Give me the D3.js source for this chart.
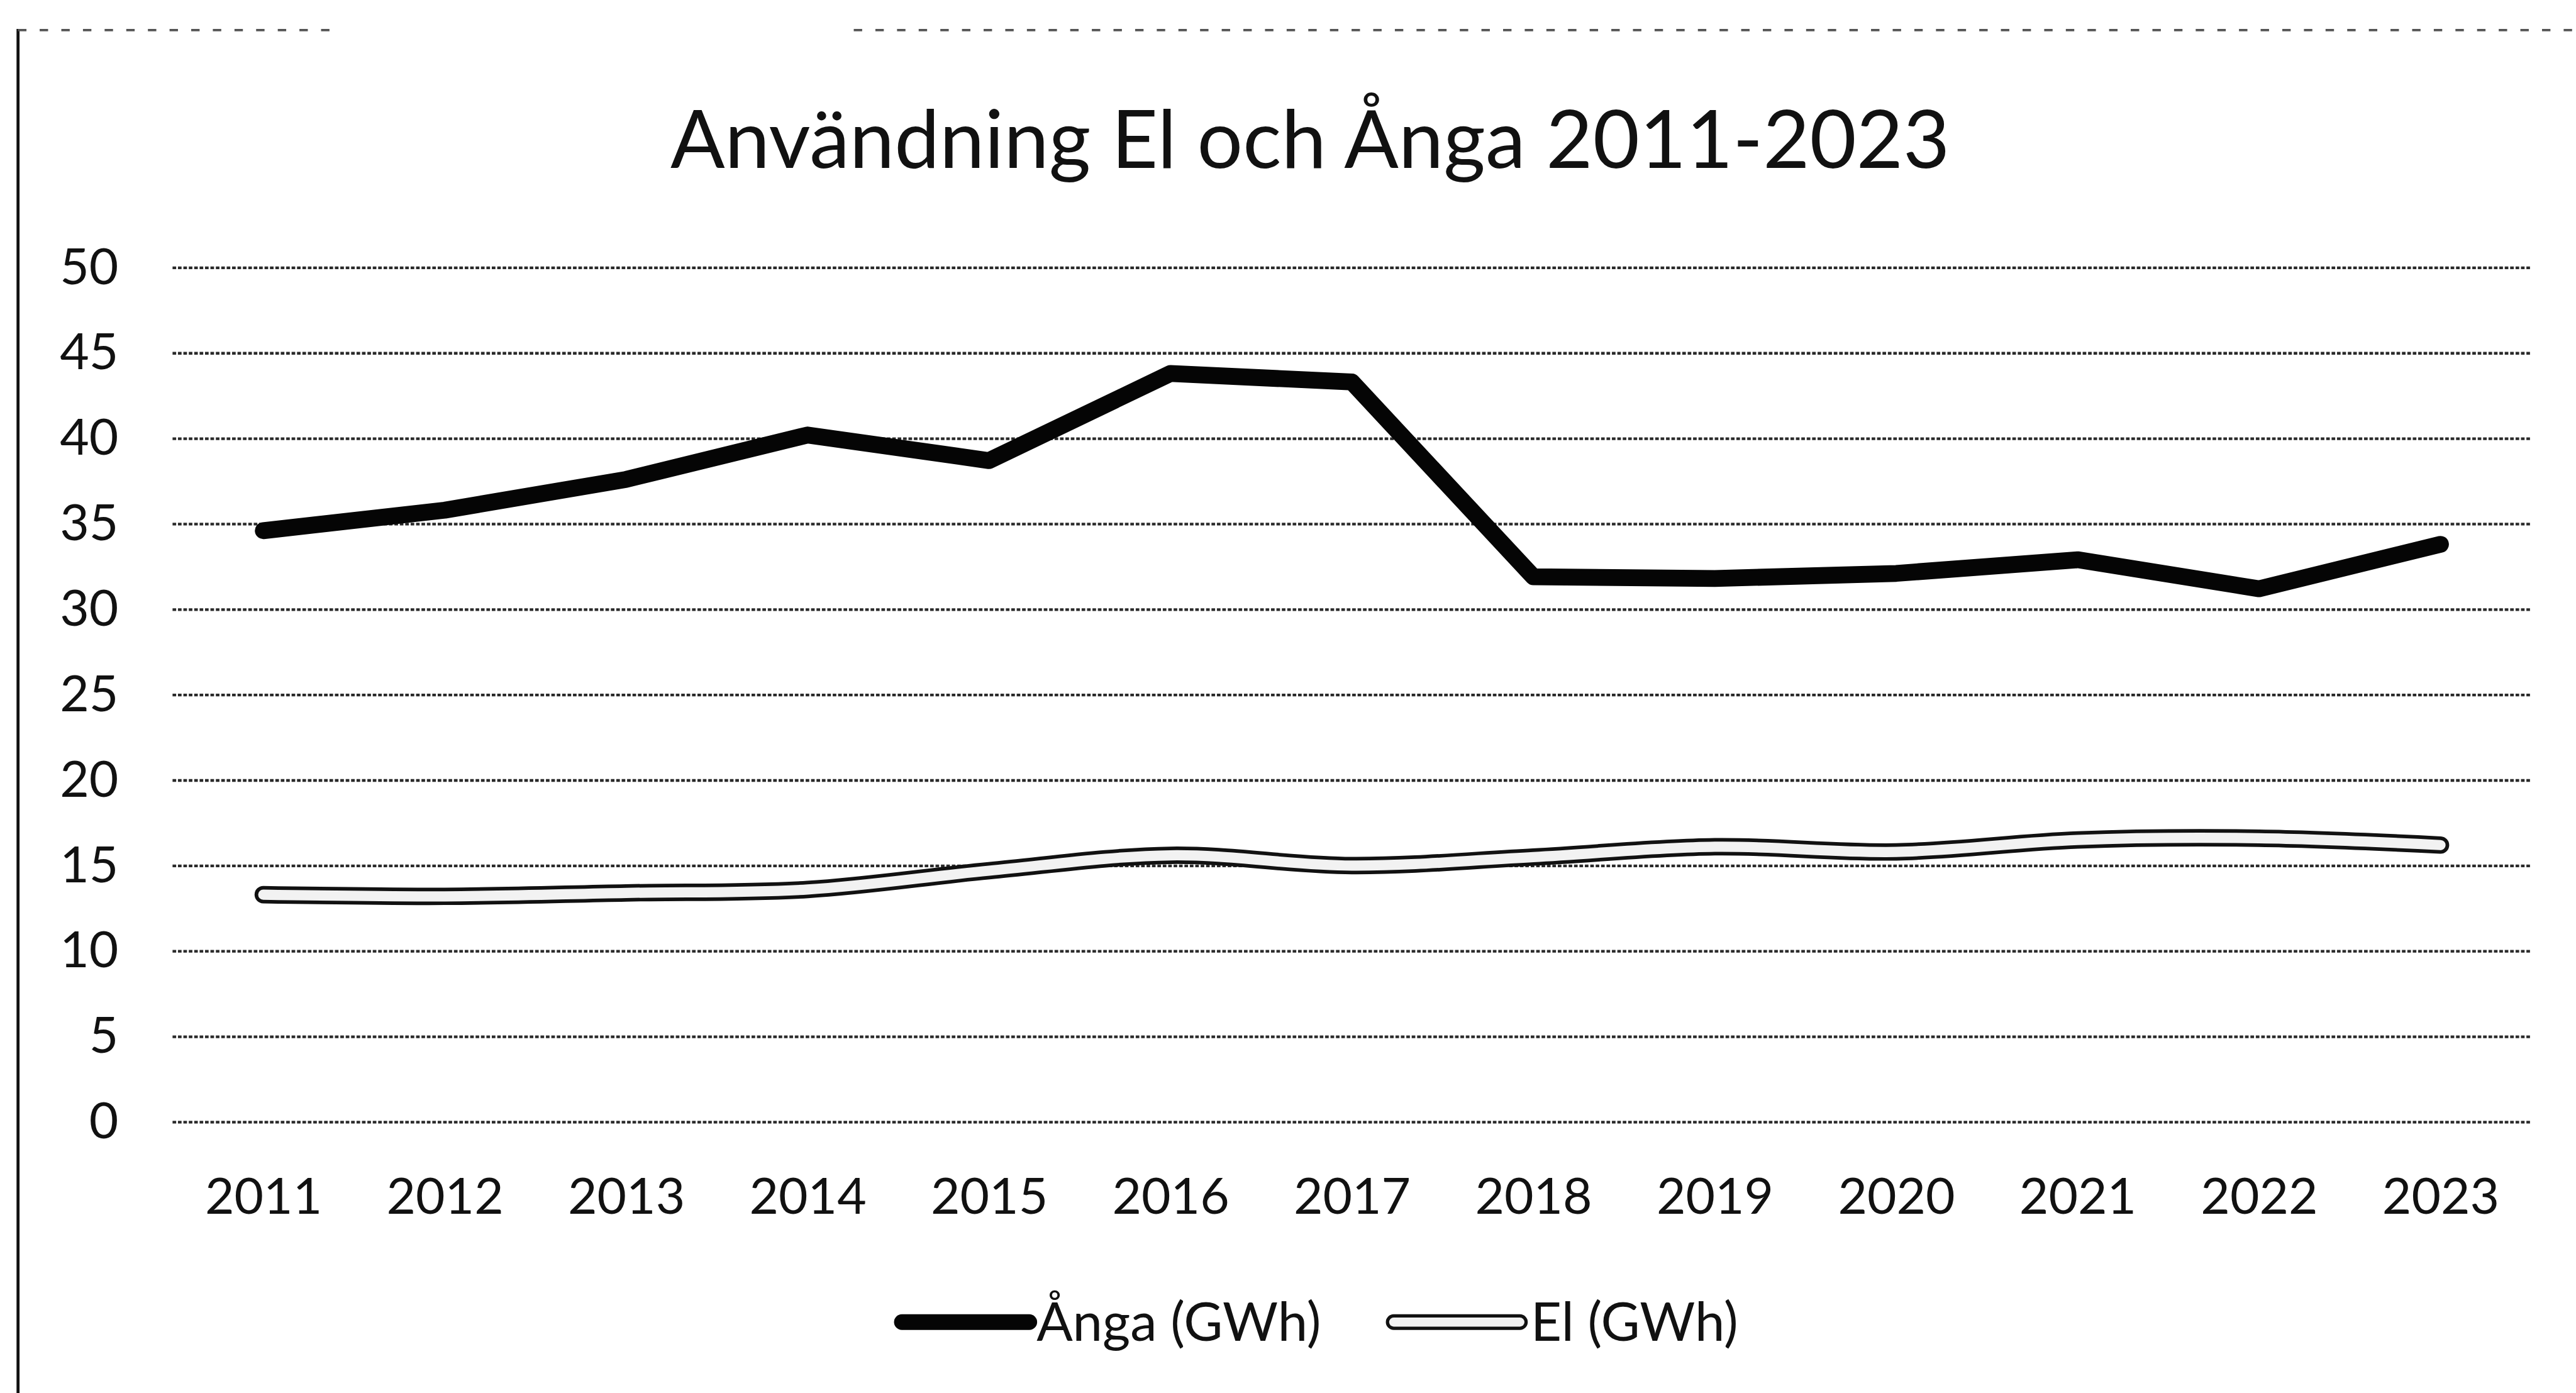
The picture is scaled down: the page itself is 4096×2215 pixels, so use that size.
<!DOCTYPE html>
<html>
<head>
<meta charset="utf-8">
<script src="https://cdn.jsdelivr.net/npm/d3@7"></script>
<style>
  html, body { margin: 0; padding: 0; background: #fff; }
  svg { display: block; }
  text { font-family: Lato, "Open Sans", sans-serif; fill: #111; }
</style>
</head>
<body>
<svg id="chart" width="4096" height="2215"></svg>
<script>
// ---- data ----
const years = ["2011","2012","2013","2014","2015","2016","2017","2018","2019","2020","2021","2022","2023"];
const anga = [34.6, 35.8, 37.6, 40.2, 38.7, 43.8, 43.3, 31.9, 31.8, 32.1, 32.9, 31.2, 33.8];
const el   = [13.3, 13.2, 13.4, 13.6, 14.7, 15.6, 15.0, 15.5, 16.1, 15.8, 16.5, 16.6, 16.2];
const yTicks = [0, 5, 10, 15, 20, 25, 30, 35, 40, 45, 50];
const titleText = "Användning El och Ånga 2011-2023";
const seriesNames = ["Ånga (GWh)", "El (GWh)"];

// ---- layout (reference pixel space, scaled to window) ----
const S = 0.956;
const svg = d3.select("#chart");
const root = svg.append("g").attr("transform", `scale(${S})`);

const plotLeft = 287, plotRight = 4210, yTop = 445, yBottom = 1866;

const x = d3.scalePoint().domain(years).range([plotLeft, plotRight]).padding(0.5);
const y = d3.scaleLinear().domain([0, 50]).range([yBottom, yTop]);

// chart border remnants (scan)
root.append("line").attr("x1", 30).attr("x2", 30).attr("y1", 48).attr("y2", 2317)
  .attr("stroke", "#111").attr("stroke-width", 5);
root.append("line").attr("x1", 30).attr("x2", 560).attr("y1", 50).attr("y2", 50)
  .attr("stroke", "#555").attr("stroke-width", 4).attr("stroke-dasharray", "14,22");
root.append("line").attr("x1", 1420).attr("x2", 4284).attr("y1", 50).attr("y2", 50)
  .attr("stroke", "#555").attr("stroke-width", 4).attr("stroke-dasharray", "14,22");

// title
const title = root.append("text")
  .attr("x", 2179).attr("y", 279)
  .attr("text-anchor", "middle")
  .style("font-size", "150px")
  .text(titleText);
const tw = title.node().getComputedTextLength();
title.style("font-size", (150 * 2128 / tw) + "px");

// gridlines via axis
const yAxis = d3.axisLeft(y).tickValues(yTicks).tickSize(-(plotRight - plotLeft)).tickPadding(90);
const gy = root.append("g").attr("transform", `translate(${plotLeft},0)`).call(yAxis);
gy.select(".domain").remove();
gy.selectAll(".tick line")
  .attr("stroke", "#2a2a2a").attr("stroke-width", 4.5).attr("stroke-dasharray", "6,3");
gy.selectAll(".tick text")
  .attr("x", 197 - plotLeft)
  .style("font-family", "Lato, sans-serif")
  .style("font-size", "84px").attr("fill", "#111");

// x axis labels
const xAxis = d3.axisBottom(x).tickSize(0).tickPadding(0);
const gx = root.append("g").attr("transform", `translate(0,${yBottom})`).call(xAxis);
gx.select(".domain").remove();
gx.selectAll(".tick text")
  .attr("dy", null).attr("y", 2019 - yBottom)
  .style("font-family", "Lato, sans-serif")
  .style("font-size", "84px").attr("fill", "#111");

// lines
const angaLine = d3.line().x((d, i) => x(years[i])).y(d => y(d)).curve(d3.curveLinear);
const elLine = d3.line().x((d, i) => x(years[i])).y(d => y(d)).curve(d3.curveCatmullRom.alpha(0.5));

root.append("path").datum(anga).attr("d", angaLine)
  .attr("fill", "none").attr("stroke", "#050505").attr("stroke-width", 28)
  .attr("stroke-linejoin", "round").attr("stroke-linecap", "round");

root.append("path").datum(el).attr("d", elLine)
  .attr("fill", "none").attr("stroke", "#111").attr("stroke-width", 29)
  .attr("stroke-linejoin", "round").attr("stroke-linecap", "round");
root.append("path").datum(el).attr("d", elLine)
  .attr("fill", "none").attr("stroke", "#f2f2f2").attr("stroke-width", 17)
  .attr("stroke-linejoin", "round").attr("stroke-linecap", "round");

// legend
const leg = root.append("g");
const ly = 2199;
leg.append("line").attr("x1", 1500).attr("x2", 1712).attr("y1", ly).attr("y2", ly)
  .attr("stroke", "#050505").attr("stroke-width", 26).attr("stroke-linecap", "round");
leg.append("text").attr("x", 1724).attr("y", ly + 31).style("font-size", "89px").text(seriesNames[0]);

leg.append("line").attr("x1", 2318).attr("x2", 2528).attr("y1", ly).attr("y2", ly)
  .attr("stroke", "#111").attr("stroke-width", 26).attr("stroke-linecap", "round");
leg.append("line").attr("x1", 2318).attr("x2", 2528).attr("y1", ly).attr("y2", ly)
  .attr("stroke", "#f2f2f2").attr("stroke-width", 15).attr("stroke-linecap", "round");
leg.append("text").attr("x", 2546).attr("y", ly + 31).style("font-size", "89px").text(seriesNames[1]);
</script>
</body>
</html>
